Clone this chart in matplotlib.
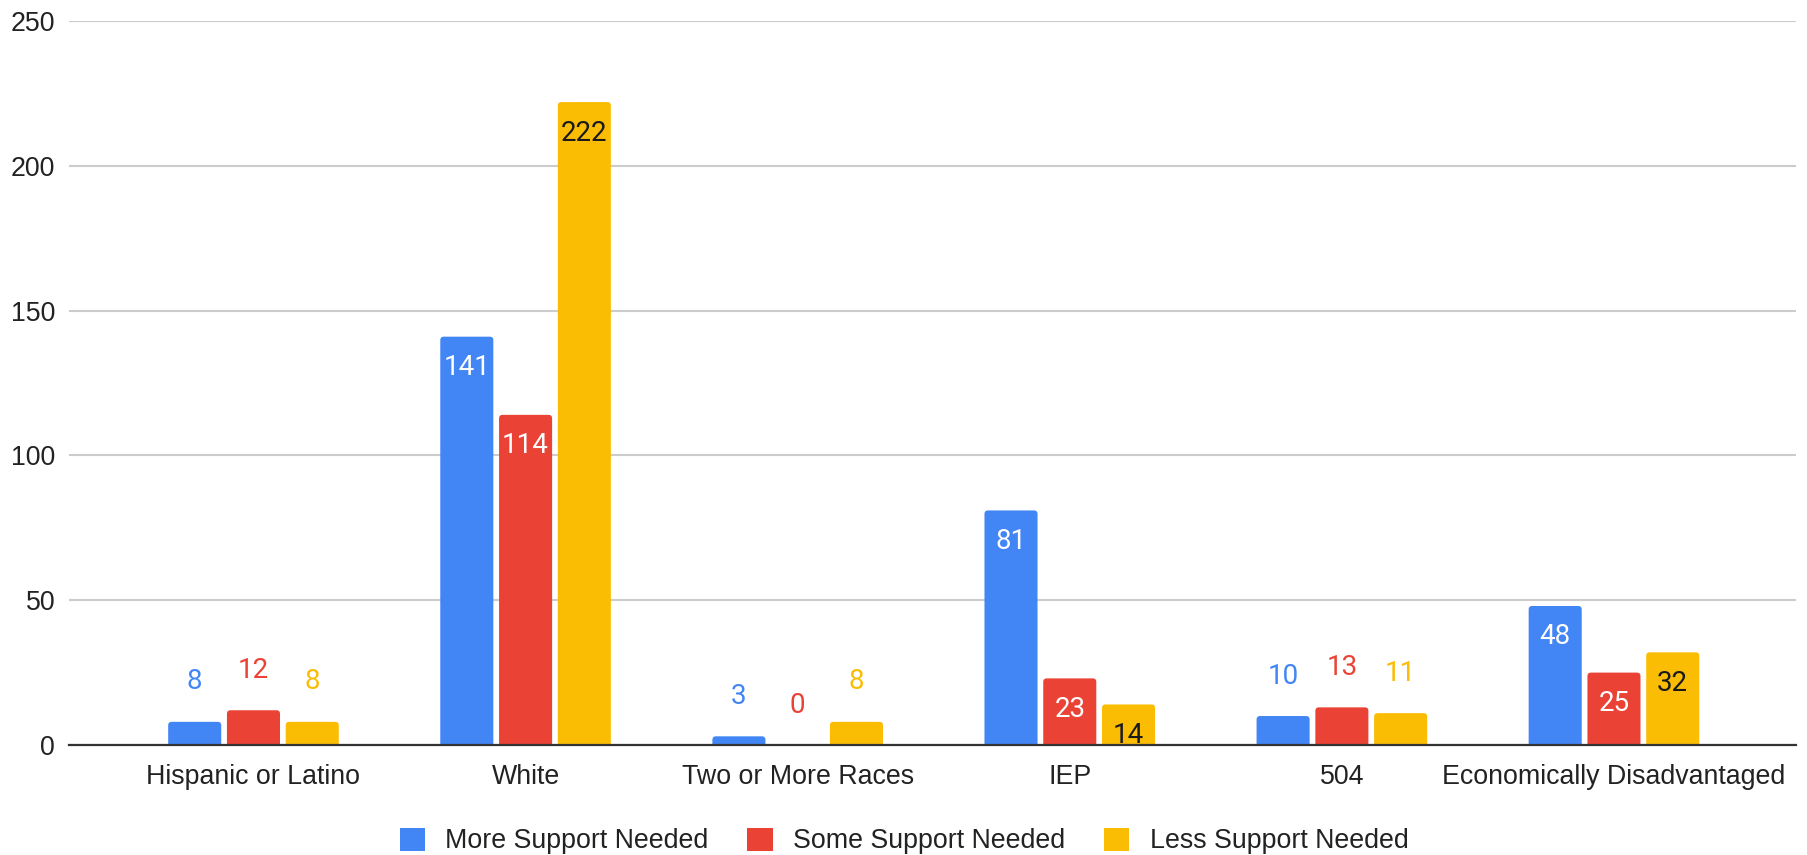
import numpy as np
import matplotlib
matplotlib.use('Agg')
import matplotlib.pyplot as plt
from matplotlib.patches import Patch, FancyBboxPatch

# data
categories = ['Hispanic or Latino', 'White', 'Two or More Races', 'IEP', '504',
              'Economically Disadvantaged']
more_support = [8, 141, 3, 81, 10, 48]
some_support = [12, 114, 0, 23, 13, 25]
less_support = [8, 222, 8, 14, 11, 32]
series_names = ['More Support Needed', 'Some Support Needed', 'Less Support Needed']
yticks = [0, 50, 100, 150, 200, 250]

colors = ['#4285F4', '#EA4335', '#FBBC04']
inside_text = ['white', 'white', '#1a1a1a']

W, H = 1808, 855
fig = plt.figure(figsize=(W / 100, H / 100), dpi=100)
ax = fig.add_axes([69 / W, (H - 745) / H, (1796 - 69) / W, (745 - 21) / H])

x = np.arange(len(categories))
bar_w = 0.195
step = 0.216
series = [more_support, some_support, less_support]

# pixel scale of the axes, used for the rounded bar corners
x_span = 5.669 + 0.678
px_x = (1796 - 69) / x_span
px_y = 724 / 250
r_px = 3.5
aspect = (1 / px_y) / (1 / px_x)
r_x = r_px / px_x

for i, vals in enumerate(series):
    xs = x + (i - 1) * step
    bars = ax.bar(xs, vals, width=bar_w, color=colors[i], zorder=3, label=series_names[i])
    for b in bars:
        b.set_visible(False)
        h = b.get_height()
        if h <= 0:
            continue
        # extend below zero so only the top corners look rounded (axes clips the rest)
        y0 = -r_px / px_y
        fb = FancyBboxPatch((b.get_x(), y0), b.get_width(), h - y0,
                            boxstyle=f'round,pad=0,rounding_size={r_x}',
                            mutation_aspect=aspect, facecolor=colors[i],
                            edgecolor='none', zorder=3)
        ax.add_patch(fb)
    for xi, v in zip(xs, vals):
        if v >= 14:
            # label inside the bar, near the top
            ax.annotate(str(v), (xi, v), xytext=(0, -31 * 0.72), textcoords='offset points',
                        ha='center', va='center', fontsize=20, family='Roboto',
                        color=inside_text[i], zorder=4)
        else:
            ax.annotate(str(v), (xi, v), xytext=(0, 40 * 0.72), textcoords='offset points',
                        ha='center', va='center', fontsize=20, family='Roboto',
                        color=colors[i], zorder=4)

ax.set_xlim(-0.678, 5.669)
ax.set_ylim(0, 250)
ax.set_yticks(yticks)
ax.set_xticks(x)
ax.set_xticklabels(categories)

for s in ['top', 'right', 'left']:
    ax.spines[s].set_visible(False)
ax.spines['bottom'].set_color('#333333')
ax.spines['bottom'].set_linewidth(1.6)
ax.spines['bottom'].set_zorder(5)

ax.grid(axis='y', color='#cccccc', linewidth=1.5, zorder=0)
ax.tick_params(axis='both', length=0, labelsize=19.3, labelcolor='#222222')
ax.tick_params(axis='y', pad=10)
ax.tick_params(axis='x', pad=14)
for lbl in ax.get_xticklabels() + ax.get_yticklabels():
    lbl.set_family('Liberation Sans')

handles = [Patch(facecolor=c, edgecolor='none') for c in colors]
leg = fig.legend(handles, series_names, loc='center', bbox_to_anchor=(0.5, (H - 841) / H),
                 ncol=3, frameon=False, prop={'family': 'Liberation Sans', 'size': 19.3},
                 handlelength=0.95, handleheight=0.95, handletextpad=0.75,
                 columnspacing=1.45, borderaxespad=0, borderpad=0)
for t in leg.get_texts():
    t.set_color('#222222')

fig.savefig('out.png', dpi=100)
